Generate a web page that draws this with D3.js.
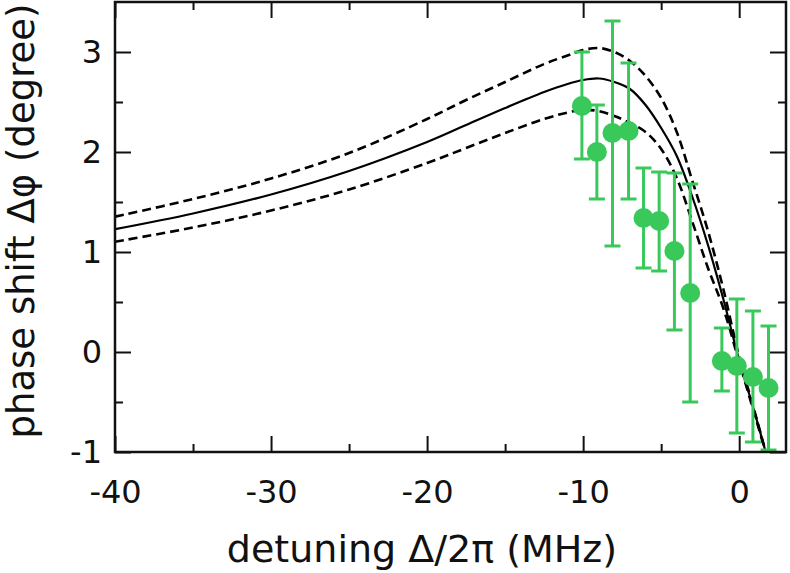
<!DOCTYPE html>
<html>
<head>
<meta charset="utf-8">
<script src="https://cdn.jsdelivr.net/npm/d3@7"></script>
<style>
  html, body { margin: 0; padding: 0; background: #fff; }
  svg { display: block; }
  text { font-family: "DejaVu Sans", sans-serif; fill: #111; }
</style>
</head>
<body>
<svg id="chart" width="790" height="573"></svg>
<script>
// ---- data ----
const detuning = [-10.08, -9.12, -8.12, -7.09, -6.13, -5.13, -4.15, -3.14, -1.11, -0.15, 0.88, 1.88];
const phase    = [2.46, 2.00, 2.19, 2.21, 1.34, 1.31, 1.01, 0.59, -0.09, -0.14, -0.25, -0.36];
const errLow   = [1.93, 1.53, 1.06, 1.53, 0.84, 0.81, 0.22, -0.50, -0.39, -0.81, -0.90, -0.98];
const errHigh  = [3.00, 2.47, 3.31, 2.89, 1.84, 1.80, 1.79, 1.68, 0.24, 0.53, 0.41, 0.26];

const curveX   = [-40, -35, -30, -25, -20, -17.5, -15, -12.5, -11, -10, -9, -8, -7, -6, -5, -4, -3, -2, -1, 0, 1, 1.75];
const fitMid   = [1.228, 1.385, 1.575, 1.81, 2.10, 2.27, 2.44, 2.60, 2.68, 2.72, 2.735, 2.70, 2.63, 2.47, 2.24, 1.96, 1.55, 1.07, 0.52, -0.08, -0.61, -1.03];
const fitHigh  = [1.353, 1.53, 1.735, 1.99, 2.33, 2.52, 2.70, 2.88, 2.965, 3.02, 3.04, 3.00, 2.91, 2.76, 2.54, 2.20, 1.71, 1.21, 0.62, -0.05, -0.60, -1.03];
const fitLow   = [1.103, 1.245, 1.415, 1.625, 1.89, 2.04, 2.19, 2.33, 2.395, 2.42, 2.41, 2.36, 2.29, 2.20, 2.03, 1.74, 1.30, 0.84, 0.43, -0.10, -0.63, -1.03];

const xMajor = [-40, -30, -20, -10, 0];
const xMinor = [-35, -25, -15, -5];
const yMajor = [-1, 0, 1, 2, 3];
const yMinor = [-0.5, 0.5, 1.5, 2.5];

const xTitle = "detuning Δ/2π (MHz)";
const yTitle = "phase shift Δφ (degree)";

// ---- layout ----
const svg = d3.select("#chart");
const L = 115, R = 786, T = 2, B = 452;
const x = d3.scaleLinear().domain([-40, 3]).range([L, R]);
const y = d3.scaleLinear().domain([-1, 3.5]).range([B, T]);
const green = "#38c95a";
const fmt = d => String(d);

svg.append("defs").append("clipPath").attr("id", "clip")
  .append("rect").attr("x", L).attr("y", T).attr("width", R - L).attr("height", B - T);

// ---- axes ----
function styleAxis(g) {
  g.select(".domain").remove();
  g.selectAll(".tick line").attr("stroke", "#111").attr("stroke-width", 2);
  g.selectAll(".tick text").style("font-size", "32px").attr("fill", "#111");
}
svg.append("g").attr("transform", `translate(0,${B})`)
  .call(d3.axisBottom(x).tickValues(xMajor).tickSize(-16).tickPadding(28).tickFormat(fmt))
  .call(styleAxis);
svg.append("g").attr("transform", `translate(0,${B})`)
  .call(d3.axisBottom(x).tickValues(xMinor).tickSize(-8).tickFormat(""))
  .call(styleAxis);
svg.append("g").attr("transform", `translate(0,${T})`)
  .call(d3.axisTop(x).tickValues(xMajor).tickSize(-16).tickFormat(""))
  .call(styleAxis);
svg.append("g").attr("transform", `translate(0,${T})`)
  .call(d3.axisTop(x).tickValues(xMinor).tickSize(-8).tickFormat(""))
  .call(styleAxis);
svg.append("g").attr("transform", `translate(${L},0)`)
  .call(d3.axisLeft(y).tickValues(yMajor).tickSize(-16).tickPadding(13).tickFormat(fmt))
  .call(styleAxis);
svg.append("g").attr("transform", `translate(${L},0)`)
  .call(d3.axisLeft(y).tickValues(yMinor).tickSize(-8).tickFormat(""))
  .call(styleAxis);
svg.append("g").attr("transform", `translate(${R},0)`)
  .call(d3.axisRight(y).tickValues(yMajor).tickSize(-16).tickFormat(""))
  .call(styleAxis);
svg.append("g").attr("transform", `translate(${R},0)`)
  .call(d3.axisRight(y).tickValues(yMinor).tickSize(-8).tickFormat(""))
  .call(styleAxis);

// ---- fit curves ----
const line = d3.line()
  .x(d => x(d[0])).y(d => y(d[1]))
  .curve(d3.curveCatmullRom.alpha(0.5));
const curves = svg.append("g").attr("clip-path", "url(#clip)");
[[fitHigh, "9,5"], [fitLow, "9,5"], [fitMid, null]].forEach(([vals, dash]) => {
  curves.append("path")
    .attr("d", line(curveX.map((cx, i) => [cx, vals[i]])))
    .attr("fill", "none")
    .attr("stroke", "#000")
    .attr("stroke-width", dash ? 2.6 : 2.2)
    .attr("stroke-dasharray", dash);
});

// ---- data points ----
const pts = detuning.map((d, i) => ({ x: d, y: phase[i], lo: errLow[i], hi: errHigh[i] }));
const gp = svg.append("g");
const cap = 8;
pts.forEach(p => {
  gp.append("line").attr("x1", x(p.x)).attr("x2", x(p.x)).attr("y1", y(p.lo)).attr("y2", y(p.hi))
    .attr("stroke", green).attr("stroke-width", 3);
  [p.lo, p.hi].forEach(v => {
    gp.append("line").attr("x1", x(p.x) - cap).attr("x2", x(p.x) + cap).attr("y1", y(v)).attr("y2", y(v))
      .attr("stroke", green).attr("stroke-width", 3);
  });
});
gp.selectAll("circle").data(pts).join("circle")
  .attr("cx", d => x(d.x)).attr("cy", d => y(d.y)).attr("r", 10)
  .attr("fill", green);

// ---- frame ----
svg.append("rect").attr("x", L).attr("y", T).attr("width", R - L).attr("height", B - T)
  .attr("fill", "none").attr("stroke", "#111").attr("stroke-width", 2.5);

// ---- titles ----
svg.append("text").attr("x", 422).attr("y", 562).attr("text-anchor", "middle")
  .style("font-size", "38px").text(xTitle);
svg.append("text").attr("transform", `translate(34,221) rotate(-90)`).attr("text-anchor", "middle")
  .style("font-size", "37px").text(yTitle);
</script>
</body>
</html>
